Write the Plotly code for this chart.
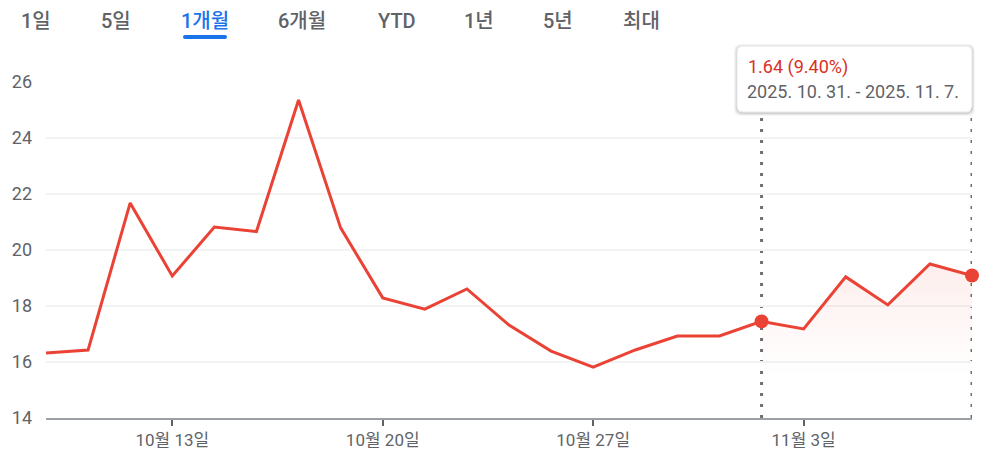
import plotly.graph_objects as go

W, H = 989, 462
L, R, T, B = 46, 17, 82, 44

DATES = [
    "2025-10-08", "2025-10-09", "2025-10-10", "2025-10-13", "2025-10-14",
    "2025-10-15", "2025-10-16", "2025-10-17", "2025-10-20", "2025-10-21",
    "2025-10-22", "2025-10-23", "2025-10-24", "2025-10-27", "2025-10-28",
    "2025-10-29", "2025-10-30", "2025-10-31", "2025-11-03", "2025-11-04",
    "2025-11-05", "2025-11-06", "2025-11-07",
]
PRICES = [
    16.32, 16.43, 21.68, 19.07, 20.82, 20.66, 25.36, 20.79, 18.29, 17.89,
    18.61, 17.32, 16.39, 15.82, 16.43, 16.93, 16.93, 17.45, 17.18, 19.04,
    18.04, 19.50, 19.09,
]
TICK_DATES = ["2025-10-13", "2025-10-20", "2025-10-27", "2025-11-03"]
TICK_LABELS = ["10월 13일", "10월 20일", "10월 27일", "11월 3일"]
Y_TICKS = [14, 16, 18, 20, 22, 24, 26]
TABS = ["1일", "5일", "1개월", "6개월", "YTD", "1년", "5년", "최대"]
TAB_X = [36, 116, 205, 302, 397, 479, 558, 641]
SELECTED_TAB = 2
RANGE_START, RANGE_END = "2025-10-31", "2025-11-07"

RED = "#ea4335"
GRAY = "#5f6368"
BLUE = "#1a73e8"
FONT = "Roboto, 'Noto Sans CJK KR', sans-serif"

pw = W - L - R
ph = H - T - B


def px_x(px):
    return (px - L) / pw


def px_y(py):
    return (H - B - py) / ph


def rounded_rect(x0, y0, x1, y1, r):
    # pixel box -> paper path with rounded corners
    ax0, ax1 = px_x(x0), px_x(x1)
    ay0, ay1 = px_y(y0), px_y(y1)
    rx, ry = r / pw, r / ph
    return (
        f"M {ax0 + rx},{ay0} L {ax1 - rx},{ay0} Q {ax1},{ay0} {ax1},{ay0 - ry} "
        f"L {ax1},{ay1 + ry} Q {ax1},{ay1} {ax1 - rx},{ay1} "
        f"L {ax0 + rx},{ay1} Q {ax0},{ay1} {ax0},{ay1 + ry} "
        f"L {ax0},{ay0 - ry} Q {ax0},{ay0} {ax0 + rx},{ay0} Z"
    )


idx = list(range(len(DATES)))
i0, i1 = DATES.index(RANGE_START), DATES.index(RANGE_END)
tickvals = [DATES.index(d) for d in TICK_DATES]

fig = go.Figure()

fig.add_trace(go.Scatter(
    x=idx[i0:i1 + 1], y=PRICES[i0:i1 + 1], mode="lines",
    line={"width": 0, "color": RED}, fill="tozeroy",
    fillgradient={"type": "vertical", "start": 15.5, "stop": 19.5,
                  "colorscale": [[0, "rgba(234,67,53,0)"], [1, "rgba(234,67,53,0.09)"]]},
    hoverinfo="skip", showlegend=False,
))
fig.add_trace(go.Scatter(
    x=idx, y=PRICES, mode="lines", line={"color": RED, "width": 3},
    customdata=DATES, hovertemplate="%{customdata}: %{y:.2f}<extra></extra>",
    showlegend=False,
))
fig.add_trace(go.Scatter(
    x=[i0, i1], y=[PRICES[i0], PRICES[i1]], mode="markers",
    marker={"color": RED, "size": 14}, cliponaxis=False,
    hoverinfo="skip", showlegend=False,
))

shapes = []
for i in (i0, i1):
    shapes.append({
        "type": "line", "xref": "x", "yref": "paper", "x0": i, "x1": i,
        "y0": 0, "y1": px_y(50), "layer": "below",
        "line": {"color": "#6f6f6f", "width": 3, "dash": "3px,8px"},
    })
# tooltip shadow + box
for off, op in ((3, 0.04), (2, 0.06), (1, 0.09)):
    shapes.append({
        "type": "path", "xref": "paper", "yref": "paper",
        "path": rounded_rect(737 - off, 46 - off + 1, 972 + off, 112 + off + 1, 7),
        "fillcolor": f"rgba(0,0,0,{op})", "line": {"width": 0}, "layer": "above",
    })
shapes.append({
    "type": "path", "xref": "paper", "yref": "paper",
    "path": rounded_rect(737, 46, 972, 112, 6),
    "fillcolor": "white", "line": {"color": "#e8e8e8", "width": 1}, "layer": "above",
})
# selected tab underline
shapes.append({
    "type": "path", "xref": "paper", "yref": "paper",
    "path": rounded_rect(183, 35, 227, 39, 2),
    "fillcolor": BLUE, "line": {"width": 0},
})

annotations = []
for k, (label, tx) in enumerate(zip(TABS, TAB_X)):
    annotations.append({
        "text": label, "xref": "paper", "yref": "paper",
        "x": px_x(tx), "y": px_y(21), "xanchor": "center", "yanchor": "middle",
        "showarrow": False,
        "font": {"size": 20, "weight": 500, "family": FONT,
                 "color": BLUE if k == SELECTED_TAB else GRAY},
    })

change = PRICES[i1] - PRICES[i0]
pct = change / PRICES[i0] * 100
d0 = [int(p) for p in RANGE_START.split("-")]
d1 = [int(p) for p in RANGE_END.split("-")]
annotations.append({
    "text": f"{change:.2f} ({pct:.2f}%)", "xref": "paper", "yref": "paper",
    "x": px_x(746), "y": px_y(67), "xanchor": "left", "yanchor": "middle",
    "showarrow": False,
    "font": {"size": 18, "color": "#d93025", "family": FONT},
})
annotations.append({
    "text": f"{d0[0]}. {d0[1]}. {d0[2]}. - {d1[0]}. {d1[1]}. {d1[2]}.",
    "xref": "paper", "yref": "paper",
    "x": px_x(745), "y": px_y(91), "xanchor": "left", "yanchor": "middle",
    "showarrow": False,
    "font": {"size": 18, "color": GRAY, "family": FONT},
})

fig.update_layout(
    width=W, height=H,
    margin={"l": L, "r": R, "t": T, "b": B, "pad": 0},
    paper_bgcolor="white", plot_bgcolor="white",
    font={"family": FONT, "color": GRAY, "size": 18},
    shapes=shapes, annotations=annotations,
    hovermode="closest",
)
fig.update_xaxes(
    range=[0, len(DATES) - 1], tickvals=tickvals, ticktext=TICK_LABELS,
    showgrid=False, zeroline=False, showline=True, linecolor="#9aa0a6", linewidth=1.5,
    ticks="outside", ticklen=6, tickwidth=2, tickcolor=GRAY,
    tickfont={"size": 17, "color": GRAY}, fixedrange=True,
)
fig.update_yaxes(
    range=[14, 26], tickvals=Y_TICKS, showgrid=True, gridcolor="#f1f3f4", gridwidth=1.5,
    zeroline=False, showline=False, ticks="", ticklabelstandoff=13,
    tickfont={"size": 18, "color": GRAY}, fixedrange=True,
)

fig.write_html(
    "out.html",
    config={"displayModeBar": False},
    post_script="document.body.style.margin='0';",
)
